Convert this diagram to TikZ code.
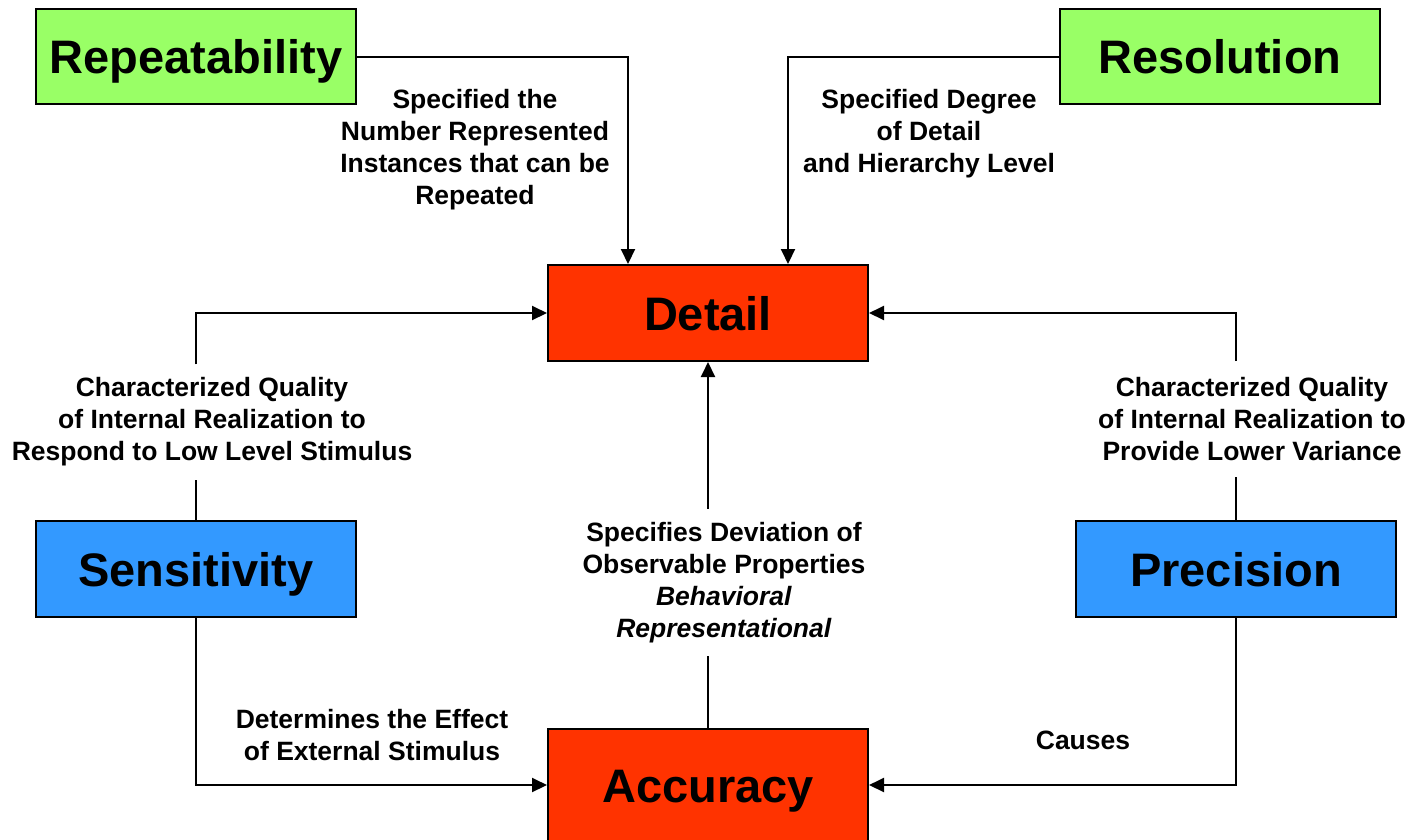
\documentclass[tikz,border=0pt]{standalone}
\usepackage{fontspec}
\setmainfont{Liberation Sans}
\usetikzlibrary{arrows.meta,calc}
\definecolor{boxgreen}{HTML}{99FF66}
\definecolor{boxred}{HTML}{FF3300}
\definecolor{boxblue}{HTML}{3399FF}
\tikzset{
  box/.style={draw=black, line width=2pt, minimum width=320pt, minimum height=95pt,
    inner sep=0pt, text height=34pt, text depth=0pt,
    font=\bfseries\fontsize{47}{56}\selectfont, text=black},
  lbl/.style={align=center, font=\bfseries\fontsize{26.5}{32}\selectfont,
    inner xsep=0pt, inner ysep=13pt},
  conn/.style={line width=2pt},
  arr/.style={conn, -{Triangle[length=15pt,width=14pt]}},
}
\begin{document}
\begin{tikzpicture}[x=1pt,y=-1pt]
  \clip (0,0) rectangle (1412,839);
  \fill[white] (0,0) rectangle (1412,839);

  % boxes
  \node[box, fill=boxgreen] (rep)  at (196,56.5)  {Repeatability};
  \node[box, fill=boxgreen] (res)  at (1220,56.5) {Resolution};
  \node[box, fill=boxred, minimum height=96pt] (detail) at (708,313) {Detail};
  \node[box, fill=boxblue, minimum height=96pt] (sens) at (196,569) {Sensitivity};
  \node[box, fill=boxblue, minimum height=96pt] (prec) at (1236,569) {Precision};
  \node[box, fill=boxred, minimum height=112pt] (acc) at (708,785) {Accuracy};

  % connector labels
  \node[lbl] (lblRep) at (475,150) {Specified the\\Number Represented\\Instances that can be\\Repeated};
  \node[lbl] (lblRes) at (929,134) {Specified Degree\\of Detail\\and Hierarchy Level};
  \node[lbl] (lblSens) at (212,422) {Characterized Quality\\of Internal Realization to\\Respond to Low Level Stimulus};
  \node[lbl, inner ysep=16pt] (lblPrec) at (1252,419) {Characterized Quality\\of Internal Realization to\\Provide Lower Variance};
  \node[lbl] (lblAcc) at (724,582.5) {Specifies Deviation of\\Observable Properties\\\textit{Behavioral}\\\textit{Representational}};
  \node[lbl] (lblEff) at (372,735) {Determines the Effect\\of External Stimulus};
  \node[lbl] (lblCause) at (1083,740) {Causes};

  % connectors into Detail
  \draw[arr] (rep.east) -| ($(detail.north)+(-80,0)$);
  \draw[arr] (res.west) -| ($(detail.north)+(80,0)$);
  \draw[conn] (sens.north) -- (sens.north |- lblSens.south);
  \draw[arr] (sens.north |- lblSens.north) |- (detail.west);
  \draw[conn] (prec.north) -- (prec.north |- lblPrec.south);
  \draw[arr] (prec.north |- lblPrec.north) |- (detail.east);
  \draw[conn] (acc.north) -- (acc.north |- lblAcc.south);
  \draw[arr] (acc.north |- lblAcc.north) -- (detail.south);

  % connectors into Accuracy
  \draw[arr] (sens.south) |- (acc.west);
  \draw[arr] (prec.south) |- (acc.east);
\end{tikzpicture}
\end{document}
